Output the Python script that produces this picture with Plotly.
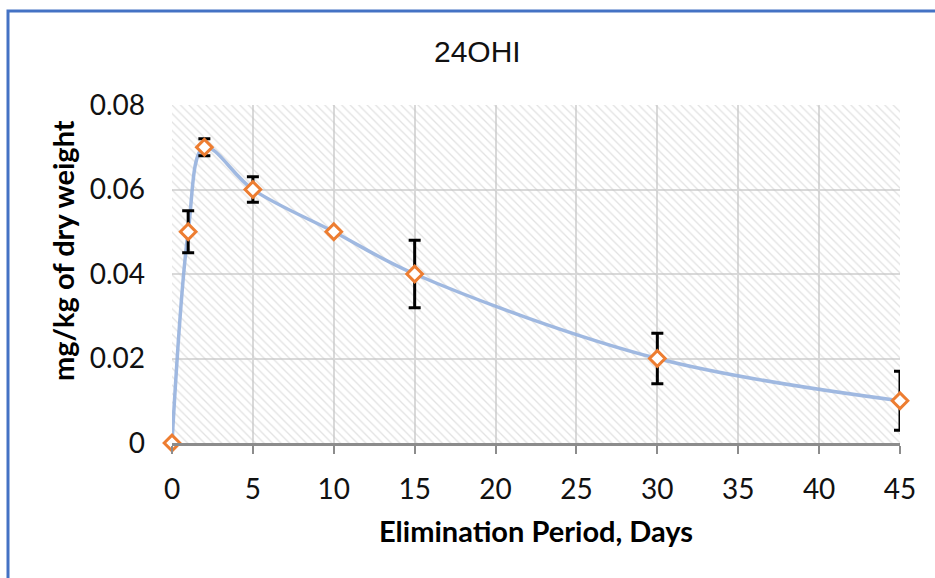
import plotly.graph_objects as go

days = [0, 1, 2, 5, 10, 15, 30, 45]
conc = [0, 0.05, 0.07, 0.06, 0.05, 0.04, 0.02, 0.01]
err = [0, 0.005, 0.002, 0.003, 0.0005, 0.008, 0.006, 0.007]

x_ticks = [0, 5, 10, 15, 20, 25, 30, 35, 40, 45]
y_ticks = [0, 0.02, 0.04, 0.06, 0.08]
y_labels = ["0", "0.02", "0.04", "0.06", "0.08"]
x_range = [0, 45]
y_range = [0, 0.08]

title = "24OHI"
x_title = "Elimination Period, Days"
y_title = "mg/kg of dry weight"

W, H = 935, 578
L, R, T, B = 172, 35, 105, 135
pw, ph = W - L - R, H - T - B

fig = go.Figure()

# hatched plot-area background (transparent so gridlines show)
fig.add_trace(go.Scatter(
    x=[x_range[0], x_range[1], x_range[1], x_range[0], x_range[0]],
    y=[y_range[0], y_range[0], y_range[1], y_range[1], y_range[0]],
    fill="toself", mode="none", hoverinfo="skip", showlegend=False,
    fillcolor="rgba(0,0,0,0)",
    fillpattern=dict(shape="\\", size=6, solidity=0.22,
                     fgcolor="#c6c6c6", bgcolor="rgba(0,0,0,0)", fillmode="overlay"),
))

# smooth line
fig.add_trace(go.Scatter(
    x=days, y=conc, mode="lines", showlegend=False,
    line=dict(color="rgba(150,177,222,0.9)", width=3.5, shape="spline", smoothing=1.0),
))

# error bars
fig.add_trace(go.Scatter(
    x=days, y=conc, mode="markers", showlegend=False,
    marker=dict(size=1, color="rgba(0,0,0,0)"),
    error_y=dict(type="data", array=err, visible=True, color="black",
                 thickness=3, width=6),
    cliponaxis=True,
))

# markers
fig.add_trace(go.Scatter(
    x=days, y=conc, mode="markers", showlegend=False,
    marker=dict(symbol="diamond", size=12, color="white",
                line=dict(color="#ED7D31", width=3)),
    cliponaxis=False,
))

fig.update_layout(
    width=W, height=H,
    margin=dict(l=L, r=R, t=T, b=B, pad=0),
    paper_bgcolor="white", plot_bgcolor="white",
    font=dict(family="Lato", color="#000000"),
    showlegend=False,
    shapes=[dict(type="rect", xref="paper", yref="paper",
                 x0=(8 - L) / pw, x1=(W + 20 - L) / pw,
                 y0=-(B + 60) / ph,
                 y1=(T + ph - 11) / ph,
                 line=dict(color="#4472C4", width=3), layer="below")],
    annotations=[
        dict(text=title, xref="paper", yref="paper", x=(477 - L) / pw, y=(T + ph - 52) / ph,
             showarrow=False, xanchor="center", yanchor="middle",
             font=dict(family="Liberation Sans", size=30, color="#111111")),
        dict(text="<b>" + x_title + "</b>", xref="paper", yref="paper",
             x=(536 - L) / pw, y=(T + ph - 530) / ph,
             showarrow=False, xanchor="center", yanchor="middle",
             font=dict(family="Lato", size=29, color="#000000")),
        dict(text="<b>" + y_title + "</b>", xref="paper", yref="paper",
             x=(62 - L) / pw, y=(T + ph - 251) / ph, textangle=-90,
             showarrow=False, xanchor="center", yanchor="middle",
             font=dict(family="Lato", size=29, color="#000000")),
    ],
)

fig.update_xaxes(
    range=x_range, tickvals=x_ticks, showgrid=True, gridcolor="#d9d9d9", gridwidth=1.5,
    zeroline=False, showline=True, linecolor="#8c8c8c", linewidth=2.5,
    ticks="outside", ticklen=8, tickwidth=2, tickcolor="#8c8c8c",
    tickfont=dict(family="Lato", size=28, color="#111111"), ticklabelstandoff=12,
    fixedrange=True,
)
fig.update_yaxes(
    range=y_range, tickvals=y_ticks, ticktext=y_labels, showgrid=True,
    gridcolor="#d9d9d9", gridwidth=1.5, zeroline=False, showline=False,
    ticks="", tickfont=dict(family="Lato", size=28, color="#111111"),
    ticklabelstandoff=26, fixedrange=True,
)

fig.write_html("out.html")
